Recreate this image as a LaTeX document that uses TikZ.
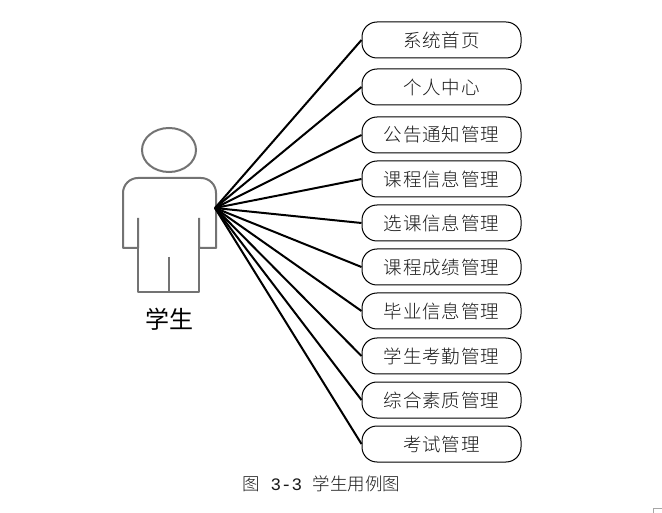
\documentclass[tikz,border=0pt]{standalone}
\usepackage{fontspec}
\setmainfont{Liberation Mono}
\newfontfamily\cjk[LetterSpace=5]{Noto Sans CJK SC Light}
\newfontfamily\cjkn{Noto Sans CJK SC}
\newfontfamily\cjkc{Noto Sans CJK SC Light}
\tikzset{
  usecase/.style={draw=black,line width=1pt,rounded corners=15pt,minimum width=159pt,minimum height=36pt,inner sep=0pt,text=black!90,font=\cjk\fontsize{18.5}{20}\selectfont},
  link/.style={draw=black,line width=2pt},
  actorline/.style={draw=black!55,line width=2pt}
}
\begin{document}
\begin{tikzpicture}[x=1pt,y=-1pt]
\useasboundingbox[fill=white] (0,0) rectangle (662,513);
\draw[actorline] (169,150) ellipse [x radius=27,y radius=22];
\draw[actorline,line join=round,rounded corners=0pt] (138,218) -- (138,248) -- (123,248) [rounded corners=15pt] -- (123,178) -- (216,178) -- (216,248) [rounded corners=0pt] -- (216,248) -- (199,248) -- (199,218);
\draw[actorline,line join=round] (138,248) -- (138,292) -- (199,292) -- (199,248);
\draw[actorline] (169,257) -- (169,292);
\coordinate (actor) at (215,208);
\node[font=\cjkn\fontsize{24}{26}\selectfont,text=black] (actorname) at (169,319) {学生};
\foreach \n/\y/\t in {a/40/系统首页,b/87/个人中心,c/135/公告通知管理,d/179/课程信息管理,e/223/选课信息管理,f/267/课程成绩管理,g/311/毕业信息管理,h/356/学生考勤管理,i/400/综合素质管理,j/444/考试管理}{
  \node[usecase] (\n) at (441.5,\y) {\raisebox{-1pt}{\t}};
  \draw[link] (actor) -- (\n.west);
}
\node[text=black!90,font=\fontsize{17.5}{20}\selectfont,inner sep=0pt] (caption) at (321.5,484) {{\cjkc 图} 3-3 {\cjkc 学生用例图}};
\draw[draw=black!35,line width=0.7pt] (653,513) -- (653,508.5) -- (662,508.5);
\end{tikzpicture}
\end{document}
